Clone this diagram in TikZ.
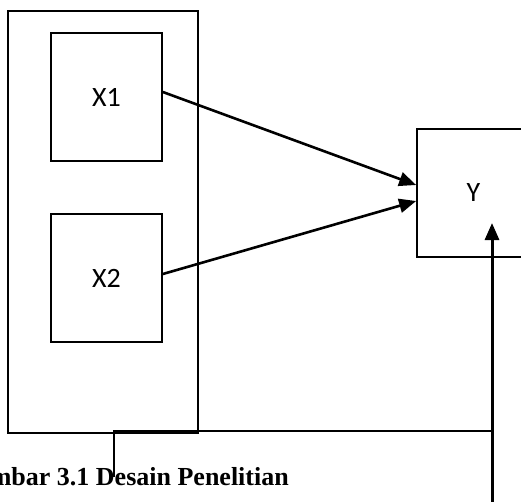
\documentclass[tikz,border=0pt]{standalone}
\usepackage{fontspec}
\setmainfont{Liberation Serif}
\newfontfamily\calibrifont{Carlito}
\usetikzlibrary{arrows.meta}
\begin{document}
\begin{tikzpicture}[x=1pt,y=-1pt,
  box/.style={draw,line width=1.7pt,rectangle,inner sep=0pt,font=\calibrifont\fontsize{28}{30}\selectfont},
  tip/.style={-{Triangle[length=17pt,width=14pt]}},
  conn/.style={line width=2.6pt,tip},
  plain/.style={line width=1.8pt}]
\useasboundingbox (0,0) rectangle (521,501);
\node[box,minimum width=190pt,minimum height=422pt] (outer) at (103,222) {};
\node[box,minimum width=111pt,minimum height=128pt] (x1) at (106.5,97) {X1};
\node[box,minimum width=111pt,minimum height=128pt] (x2) at (106.5,278) {X2};
\node[box,minimum width=113pt,minimum height=128pt] (y) at (473.5,193) {Y};
\draw[conn] ([yshift=5pt]x1.east) -- ([yshift=8pt]y.west);
\draw[conn] ([yshift=4pt]x2.east) -- ([yshift=-8pt]y.west);
\coordinate (c1) at (114,477);
\coordinate (c2) at (492,431);
\coordinate (c3) at (492,510);
\coordinate (ytip) at (492,223);
\draw[plain] (c1) |- (c2);
\draw[line width=3pt,tip] (c3) -- (ytip);
\node[anchor=base east,inner sep=0pt,font=\bfseries\fontsize{26}{28}\selectfont] (cap) at (289,485) {Gambar 3.1 Desain Penelitian};
\end{tikzpicture}
\end{document}
